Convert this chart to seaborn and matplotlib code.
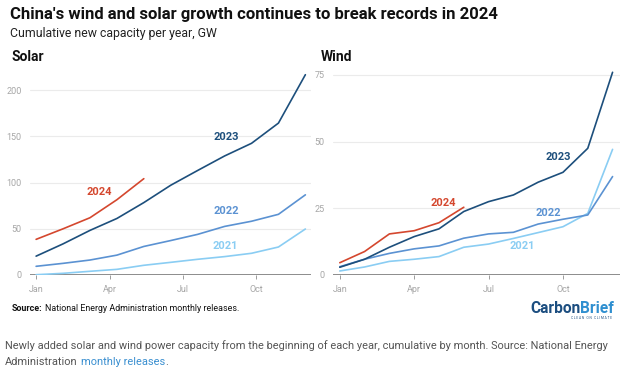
import numpy as np
import pandas as pd
import matplotlib.pyplot as plt
import seaborn as sns

# Solar: 11 reported points (Jan-Feb combined) spread evenly Jan..Dec
solar_2021 = [0.3, 1.8, 4.0, 6.1, 10.5, 13.7, 17.0, 19.9, 23.5, 30.3, 49.8]
solar_2022 = [9.4, 12.6, 16.2, 21.5, 30.9, 37.3, 44.0, 52.6, 58.2, 65.7, 86.8]
solar_2023 = [20.4, 33.7, 48.3, 61.2, 78.4, 97.2, 113.2, 128.9, 142.6, 164.5, 216.9]
solar_2024 = [38.6, 50.0, 62.0, 81.5, 104.3]

# Wind: monthly points Jan..Dec
wind_2021 = [1.5, 3.0, 5.1, 5.9, 6.9, 10.4, 11.6, 13.7, 15.9, 18.1, 23.1, 47.1]
wind_2022 = [3.1, 5.9, 8.1, 9.8, 10.9, 13.8, 15.4, 16.0, 19.1, 20.9, 22.5, 36.9]
wind_2023 = [2.9, 5.9, 10.4, 14.4, 17.3, 23.8, 27.5, 30.0, 34.8, 38.5, 47.5, 76.0]
wind_2024 = [4.6, 8.8, 15.4, 16.6, 19.6, 25.4]

years = ['2021', '2022', '2023', '2024']
month_ticks = ['Jan', 'Apr', 'Jul', 'Oct']
solar_yticks = [0, 50, 100, 150, 200]
wind_yticks = [0, 25, 50, 75]

colors = {'2021': '#8acdf3', '2022': '#5b92d2', '2023': '#1d4f7c', '2024': '#d4472e'}


def to_frame(series, step):
    rows = []
    for yr, vals in zip(years, series):
        for i, v in enumerate(vals):
            rows.append({'month': i * step, 'gw': v, 'year': yr})
    return pd.DataFrame(rows)


solar_df = to_frame([solar_2021, solar_2022, solar_2023, solar_2024], 1.1)
wind_df = to_frame([wind_2021, wind_2022, wind_2023, wind_2024], 1.0)

# label positions (month, GW)
solar_labels = {'2023': (7.75, 149), '2024': (2.57, 90), '2022': (7.75, 69), '2021': (7.72, 31)}
wind_labels = {'2023': (8.82, 44.1), '2024': (4.19, 27.1), '2022': (8.41, 23.1), '2021': (7.37, 10.9)}

sns.set_theme(style='white')
plt.rcParams['font.family'] = ['Roboto', 'DejaVu Sans']

fig = plt.figure(figsize=(6.21, 3.70), dpi=100)
ax_s = fig.add_axes([0.0483, 0.2568, 0.4525, 0.554])
ax_w = fig.add_axes([0.536, 0.2568, 0.462, 0.555])


def style_panel(ax, df, ylim, xlim, yticks, labels):
    sns.lineplot(data=df, x='month', y='gw', hue='year', palette=colors,
                 linewidth=1.2, legend=False, ax=ax)
    ax.set_ylim(*ylim)
    ax.set_xlim(*xlim)
    ax.set_yticks(yticks)
    ax.set_xticks([0, 3, 6, 9])
    ax.set_xticklabels(month_ticks)
    ax.set_xlabel('')
    ax.set_ylabel('')
    for s in ax.spines.values():
        s.set_visible(False)
    ax.grid(axis='y', color='#ebebeb', linewidth=0.8)
    ax.set_axisbelow(True)
    ax.axhline(0, color='#8c8c8c', linewidth=1.4, zorder=1)
    ax.tick_params(axis='y', length=0, pad=6, labelsize=6.5, labelcolor='#a6a6a6')
    ax.tick_params(axis='x', length=3, width=0.6, color='#8c8c8c', direction='out',
                   pad=4, labelsize=6.5, labelcolor='#a6a6a6', bottom=True)
    for yr, (x, y) in labels.items():
        ax.text(x, y, yr, color=colors[yr], fontsize=8, fontweight='bold',
                ha='center', va='center')


style_panel(ax_s, solar_df, (0, 222), (-0.25, 11.23), solar_yticks, solar_labels)
style_panel(ax_w, wind_df, (0, 77), (-0.28, 11.29), wind_yticks, wind_labels)

W, H = 621, 370


def chain(prev, text, gap=0, **kw):
    # place a text right after the previous one on the same baseline
    return plt.annotate(text, xy=(1, 0), xycoords=prev, xytext=(gap, 0),
                        textcoords='offset points', va='bottom',
                        annotation_clip=False, **kw)


fig.text(10 / W, 1 - 15 / H, "China's wind and solar growth continues to break records in 2024",
         fontsize=12, fontweight='bold', color='#111111', va='center')
fig.text(10 / W, 1 - 33 / H, 'Cumulative new capacity per year, GW',
         fontsize=8.8, color='#222222', va='center')
fig.text(12 / W, 1 - 57 / H, 'Solar', fontsize=10, fontweight='bold', color='#111111', va='center')
fig.text(321 / W, 1 - 57 / H, 'Wind', fontsize=10, fontweight='bold', color='#111111', va='center')

src = fig.text(12 / W, 1 - 311 / H, 'Source:', fontsize=6.4, fontweight='bold',
               color='#111111', va='baseline')
chain(src, 'National Energy Administration monthly releases.', gap=2,
      fontsize=6.4, color='#111111')

carbon = fig.text(530 / W, 1 - 313 / H, 'Carbon', fontsize=11.2, fontweight='bold',
                  color='#1c4e80', va='baseline')
chain(carbon, 'Brief', fontsize=11.2, fontweight='bold', color='#2f8fd0')
fig.text(612 / W, 1 - 318 / H, 'C L E A N   O N   C L I M A T E', fontsize=2.3,
         color='#1c4e80', ha='right', va='center')

cap1 = fig.text(5 / W, 1 - 349 / H,
                'Newly added solar and wind power capacity from the beginning of each year, '
                'cumulative by month. Source: National Energy',
                fontsize=7.95, color='#555555', va='baseline')
cap2 = fig.text(5 / W, 1 - 365 / H, 'Administration', fontsize=7.95, color='#555555',
                va='baseline')
link = chain(cap2, 'monthly releases', gap=2.2, fontsize=7.95, color='#3a8fd0')
chain(link, '.', fontsize=7.95, color='#555555')

fig.savefig('out.png', dpi=100)
